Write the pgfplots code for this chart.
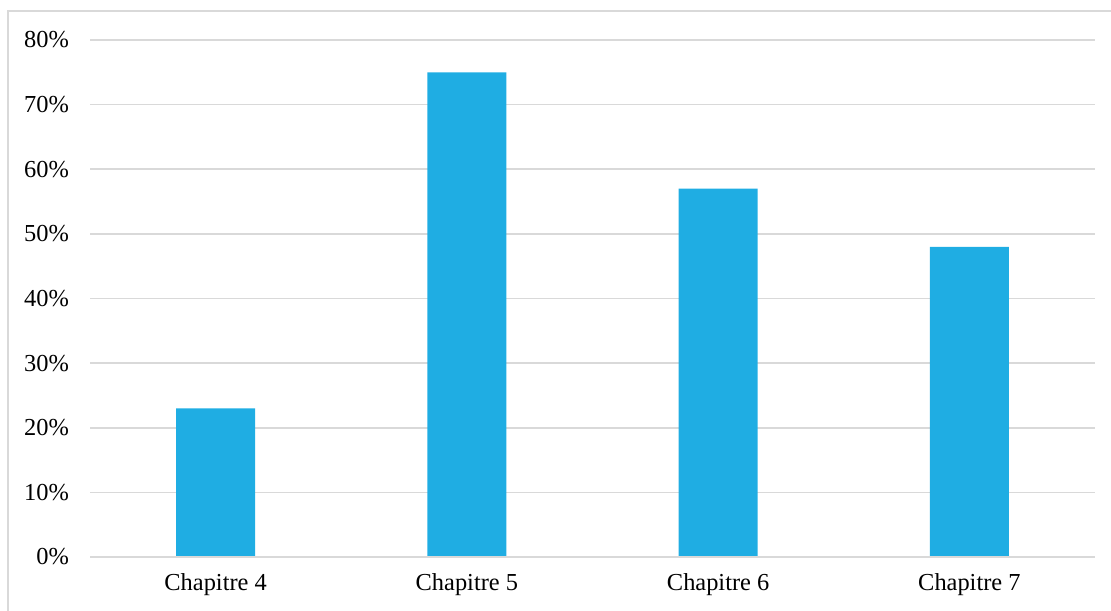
\documentclass[border=0pt]{standalone}
\usepackage{pgfplots}
\pgfplotsset{compat=1.18}
\usepackage{fontspec}
\setmainfont{Liberation Serif}
\definecolor{barblue}{HTML}{1FADE3}
\definecolor{gridgray}{HTML}{D9D9D9}
\definecolor{bordergray}{HTML}{D9D9D9}
\begin{document}
\begin{tikzpicture}
\useasboundingbox (0pt,0pt) rectangle (555.5pt,305pt);
\draw[bordergray, line width=0.8pt] (4pt,-3pt) -- (4pt,299.5pt) -- (558pt,299.5pt);
\begin{axis}[
  at={(45pt,26.5pt)}, anchor=south west,
  scale only axis, width=502.5pt, height=258.5pt,
  xmin=-0.5, xmax=3.5, ymin=0, ymax=80,
  axis line style={draw=none},
  ymajorgrids, grid style={gridgray, line width=0.8pt},
  ytick={0,10,...,80},
  yticklabel={\pgfmathprintnumber{\tick}\%},
  xtick=data,
  xticklabels={Chapitre 4,Chapitre 5,Chapitre 6,Chapitre 7},
  major tick length=0pt,
  tick label style={font=\fontsize{12.2}{14}\selectfont},
  /pgf/number format/assume math mode=true,
  yticklabel style={xshift=-7pt},
  xticklabel style={yshift=-5pt},
  ybar, bar width=39.5pt,
  clip=false,
]
\addplot[fill=barblue, draw=none] coordinates {(0,23) (1,75) (2,57) (3,48)};
\draw[gridgray, line width=0.8pt] (axis cs:-0.5,0) -- (axis cs:3.5,0);
\end{axis}
\end{tikzpicture}
\end{document}
